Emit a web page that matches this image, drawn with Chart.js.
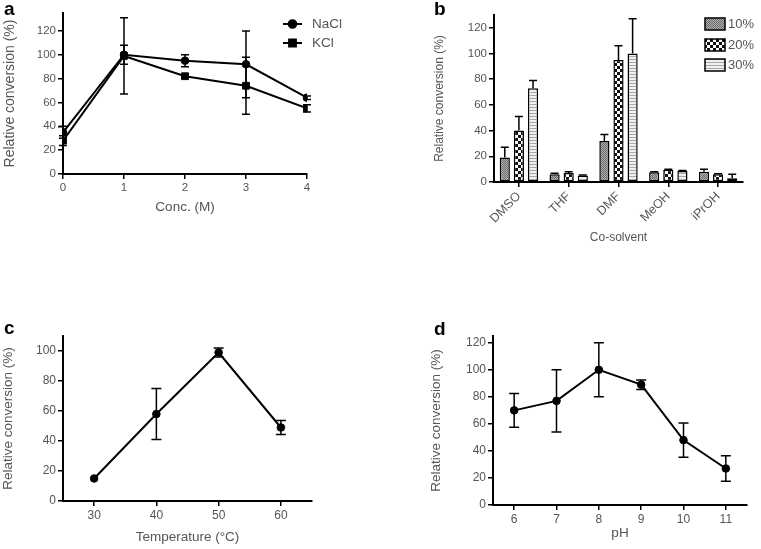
<!DOCTYPE html>
<html>
<head>
<meta charset="utf-8">
<script src="https://cdn.jsdelivr.net/npm/chart.js@4.4.0/dist/chart.umd.min.js"></script>
<style>
body{margin:0;background:#fff;width:761px;height:549px;position:relative;overflow:hidden;font-family:"Liberation Sans",Arial,sans-serif}
canvas{position:absolute}
.lbl{position:absolute;font-weight:bold;font-size:19px;line-height:19px;color:#000}
</style>
</head>
<body>
<canvas id="ca" width="380" height="220" style="left:0;top:0"></canvas>
<canvas id="cb" width="381" height="260" style="left:380px;top:0"></canvas>
<canvas id="cc" width="380" height="269" style="left:0;top:280px"></canvas>
<canvas id="cd" width="381" height="269" style="left:380px;top:280px"></canvas>
<div class="lbl" style="left:4px;top:-1px">a</div>
<div class="lbl" style="left:434px;top:-1px">b</div>
<div class="lbl" style="left:4px;top:318px">c</div>
<div class="lbl" style="left:434px;top:319px">d</div>
<script>
// panel a - salt concentration
const concM = [0, 1, 2, 3, 4];
const naclMean = [35, 100, 95, 92, 64];
const naclErr = [5, 8, 5, 28, 1.5];
const kclMean = [28, 99, 82, 74, 55];
const kclErr = [4, 32, 1.5, 24, 3];
const concTicks = [0, 1, 2, 3, 4];
const aYTicks = [0, 20, 40, 60, 80, 100, 120];

// panel b - co-solvent
const solvents = ['DMSO', 'THF', 'DMF', 'MeOH', 'iPrOH'];
const pct10 = [19, 6, 32, 7.5, 8];
const err10 = [8, 0.8, 5, 0.5, 2];
const pct20 = [40, 7, 95, 9.5, 6];
const err20 = [11, 1, 11, 0.5, 0.5];
const pct30 = [73, 5, 100, 8.5, 3];
const err30 = [6, 0.5, 27, 0.5, 3];
const bYTicks = [0, 20, 40, 60, 80, 100, 120];

// panel c - temperature
const tempC = [30, 40, 50, 60];
const tempMean = [15, 58, 99, 49];
const tempErr = [0, 17, 3, 4.7];
const tempTicks = [30, 40, 50, 60];
const cYTicks = [0, 20, 40, 60, 80, 100];

// panel d - pH
const phVals = [6, 7, 8, 9, 10, 11];
const phMean = [70, 77, 100, 89, 48, 27];
const phErr = [12.5, 23, 20, 3.5, 12.7, 9.4];
const phTicks = [6, 7, 8, 9, 10, 11];
const dYTicks = [0, 20, 40, 60, 80, 100, 120];

const FONT = '"Liberation Sans", Arial, sans-serif';
const GREY = '#555';
Chart.defaults.font.family = FONT;

function pts(xs, ys){ return xs.map((x,i)=>({x:x, y:ys[i]})); }
function fixTicks(vals){ return s=>{ s.ticks = vals.map(v=>({value:v})); }; }

function axis(opts){
  return {
    type: opts.type || 'linear',
    min: opts.min, max: opts.max,
    afterFit: s=>{ if(opts.w!=null) s.width = opts.w; if(opts.h!=null) s.height = opts.h; },
    afterBuildTicks: opts.ticks ? fixTicks(opts.ticks) : undefined,
    border:{display:true, color:'#000', width:2},
    grid:{display:true, drawOnChartArea:false, drawTicks:true, tickLength:5, color:'#000', lineWidth:1.5, offset:false},
    ticks:{color:GREY, font:{size:opts.tickSize||12}, padding:2, minRotation:opts.rot||0, maxRotation:opts.rot||0, autoSkip:false},
    title:{display:true, text:opts.title, color:GREY, font:{size:opts.titleSize||13.5}, padding:0}
  };
}

// error bars drawn from ds.errors
const errorBars = {
  id:'errorBars',
  afterDatasetsDraw(chart, args, o){
    const ctx = chart.ctx, y = chart.scales.y;
    chart.data.datasets.forEach((ds, di)=>{
      if(!ds.errors) return;
      chart.getDatasetMeta(di).data.forEach((el, i)=>{
        const e = ds.errors[i]; if(!e) return;
        const v = typeof ds.data[i] === 'object' ? ds.data[i].y : ds.data[i];
        const top = y.getPixelForValue(v + e);
        const bot = o.upOnly ? el.y : y.getPixelForValue(v - e);
        ctx.save(); ctx.strokeStyle='#000'; ctx.lineWidth=1.5;
        ctx.beginPath();
        ctx.moveTo(el.x, top); ctx.lineTo(el.x, bot);
        ctx.moveTo(el.x-o.cap, top); ctx.lineTo(el.x+o.cap, top);
        if(!o.upOnly){ ctx.moveTo(el.x-o.cap, bot); ctx.lineTo(el.x+o.cap, bot); }
        ctx.stroke(); ctx.restore();
      });
    });
  }
};

// legend for line panel (a)
const lineKey = {
  id:'lineKey',
  afterDraw(chart, args, o){
    const ctx = chart.ctx;
    chart.data.datasets.forEach((ds, i)=>{
      const y = o.y[i];
      ctx.save();
      ctx.strokeStyle='#000'; ctx.lineWidth=2;
      ctx.beginPath(); ctx.moveTo(o.x0, y); ctx.lineTo(o.x1, y); ctx.stroke();
      Chart.helpers.drawPoint(ctx, {pointStyle:ds.pointStyle, radius:ds.pointRadius, borderWidth:1}, (o.x0+o.x1)/2, y);
      ctx.fillStyle='#000'; ctx.fill();
      ctx.fillStyle=GREY; ctx.font='13.5px '+FONT; ctx.textBaseline='middle';
      ctx.fillText(ds.label, o.tx, y);
      ctx.restore();
    });
  }
};

// legend for bar panel (b)
const boxKey = {
  id:'boxKey',
  afterDraw(chart, args, o){
    const ctx = chart.ctx;
    chart.data.datasets.forEach((ds, i)=>{
      const y = o.y[i];
      ctx.save();
      ctx.fillStyle = ds.backgroundColor;
      ctx.fillRect(o.x, y-6, o.w, 12);
      ctx.strokeStyle='#000'; ctx.lineWidth=1.5;
      ctx.strokeRect(o.x, y-6, o.w, 12);
      ctx.fillStyle=GREY; ctx.font='13px '+FONT; ctx.textBaseline='middle';
      ctx.fillText(ds.label, o.tx, y);
      ctx.restore();
    });
  }
};

function makePattern(kind){
  const c = document.createElement('canvas');
  const g = c.getContext('2d');
  if(kind==='dots'){
    c.width=c.height=2;
    g.fillStyle='#b0b0b0'; g.fillRect(0,0,2,2);
    g.fillStyle='#6a6a6a'; g.fillRect(0,0,1,1); g.fillRect(1,1,1,1);
  } else if(kind==='check'){
    c.width=c.height=6;
    g.fillStyle='#111'; g.fillRect(0,0,6,6);
    g.fillStyle='#fff'; g.fillRect(0,0,3,3); g.fillRect(3,3,3,3);
  } else {
    c.width=c.height=3;
    g.fillStyle='#f0f0f0'; g.fillRect(0,0,3,3);
    g.fillStyle='#a8a8a8'; g.fillRect(0,2,3,1);
  }
  return g.createPattern(c, 'repeat');
}

function lineDs(label, xs, ys, errs, style, r){
  return {label:label, data:pts(xs, ys), errors:errs, borderColor:'#000', borderWidth:2,
    pointStyle:style, pointRadius:r, pointBackgroundColor:'#000', pointBorderColor:'#000',
    pointBorderWidth:1, tension:0, fill:false};
}

const base = {responsive:false, animation:false, devicePixelRatio:1,
  plugins:{legend:{display:false}, tooltip:{enabled:false}}};

// a
new Chart(document.getElementById('ca'), {
  type:'line',
  data:{datasets:[
    lineDs('NaCl', concM, naclMean, naclErr, 'circle', 3.8),
    lineDs('KCl', concM, kclMean, kclErr, 'rect', 4.8)
  ]},
  options:{...base,
    layout:{padding:{left:2, top:13, right:73, bottom:5}},
    plugins:{...base.plugins, errorBars:{cap:4}, lineKey:{x0:283, x1:302, tx:312, y:[24,43]}},
    scales:{
      x:axis({min:0, max:4, ticks:concTicks, h:41, title:'Conc. (M)', tickSize:11.5}),
      y:axis({min:0, max:135, ticks:aYTicks, w:61, title:'Relative conversion (%)', titleSize:14, tickSize:11.5})
    }},
  plugins:[errorBars, lineKey]
});

// b
new Chart(document.getElementById('cb'), {
  type:'bar',
  data:{labels:solvents, datasets:[
    {label:'10%', data:pct10, errors:err10, backgroundColor:makePattern('dots')},
    {label:'20%', data:pct20, errors:err20, backgroundColor:makePattern('check')},
    {label:'30%', data:pct30, errors:err30, backgroundColor:makePattern('lines')}
  ].map(d=>({...d, borderColor:'#000', borderWidth:1.5, borderSkipped:false, barPercentage:0.72, categoryPercentage:0.85}))},
  options:{...base,
    layout:{padding:{left:52, top:15, right:18, bottom:15}},
    plugins:{...base.plugins, errorBars:{cap:4, upOnly:true}, boxKey:{x:325, w:20, tx:348, y:[24,45,65]}},
    scales:{
      x:axis({type:'category', h:63, title:'Co-solvent', titleSize:12, rot:45, tickSize:12.5}),
      y:axis({min:0, max:130, ticks:bYTicks, w:62, title:'Relative conversion (%)', titleSize:12, tickSize:11.5})
    }},
  plugins:[errorBars, boxKey]
});

// c
new Chart(document.getElementById('cc'), {
  type:'line',
  data:{datasets:[lineDs('Temperature', tempC, tempMean, tempErr, 'circle', 3.8)]},
  options:{...base,
    layout:{padding:{left:0, top:56, right:68, bottom:4}},
    plugins:{...base.plugins, errorBars:{cap:5}},
    scales:{
      x:axis({min:25, max:65, ticks:tempTicks, h:44, title:'Temperature (°C)'}),
      y:axis({min:0, max:110, ticks:cYTicks, w:63, title:'Relative conversion (%)'})
    }},
  plugins:[errorBars]
});

// d
new Chart(document.getElementById('cd'), {
  type:'line',
  data:{datasets:[lineDs('pH', phVals, phMean, phErr, 'circle', 3.8)]},
  options:{...base,
    layout:{padding:{left:48, top:56, right:14, bottom:8}},
    plugins:{...base.plugins, errorBars:{cap:5}},
    scales:{
      x:axis({min:5.5, max:11.5, ticks:phTicks, h:36, title:'pH'}),
      y:axis({min:0, max:125, ticks:dYTicks, w:65, title:'Relative conversion (%)'})
    }},
  plugins:[errorBars]
});
</script>
</body>
</html>
